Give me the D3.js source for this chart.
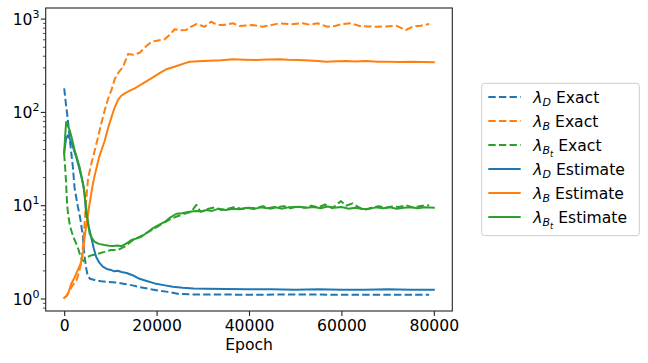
<!DOCTYPE html>
<html>
<head>
<meta charset="utf-8">
<script src="https://cdn.jsdelivr.net/npm/d3@7"></script>
<style>
  body { margin: 0; background: #fff; }
  svg { display: block; font-family: "DejaVu Sans", sans-serif; }
</style>
</head>
<body>
<svg id="chart" width="648" height="363"></svg>
<script>
// values: [epoch, value]
const lambdaDExact = [[0,181],[400,120],[800,83],[1380,43],[1880,26],[2250,15.5],[2960,9.8],[3500,7.2],[4040,4.7],[4400,2.85],[4800,2.1],[5120,1.75],[5600,1.65],[6570,1.6],[8000,1.55],[9440,1.52],[11600,1.5],[13100,1.45],[14800,1.4],[16400,1.34],[18500,1.28],[20500,1.23],[22100,1.2],[25000,1.13],[28000,1.12],[32000,1.12],[40000,1.11],[50000,1.12],[60000,1.11],[70000,1.11],[79000,1.11]];
const lambdaBExact = [[0,1.03],[700,1.1],[1600,1.35],[2680,1.6],[3300,2.0],[3760,2.6],[4100,3.8],[4470,7.0],[4800,12],[5180,20],[5920,28.7],[6630,39.5],[7340,54.5],[8000,75],[8790,106],[9500,140],[10240,174],[10950,228],[11800,270],[12740,307],[13820,423],[15000,415],[16350,436],[17500,500],[18900,572],[20300,590],[21750,607],[23000,690],[23900,778],[25200,760],[26400,764],[27500,830],[28600,885],[29500,860],[30400,829],[31800,938],[32800,880],[33600,864],[35000,870],[36500,902],[37950,844],[39300,855],[40800,864],[42900,829],[44700,860],[46600,902],[49000,880],[51600,902],[53200,870],[54800,902],[57000,829],[58600,845],[60200,885],[62100,902],[63900,844],[65700,835],[67500,829],[69600,835],[71800,850],[73950,764],[75400,829],[77200,850],[79000,885]];
const lambdaBtExact = [[0,36],[250,24],[430,17],[650,10],[900,7.8],[1230,6.2],[1510,5.5],[2000,4.6],[2590,3.95],[3000,3.5],[3330,3.1],[3820,2.65],[4200,2.55],[4600,2.7],[5120,2.84],[6000,2.95],[7280,3.05],[8700,3.2],[10150,3.35],[11600,3.35],[13100,3.64],[14900,4.29],[17060,4.85],[19000,5.5],[21000,6.3],[23000,7.2],[24500,7.7],[26000,8.2],[27500,8.6],[28600,10.2],[29500,8.6],[31000,9.2],[32500,9.6],[34000,9.0],[35500,9.3],[37000,9.7],[38500,9.2],[40000,9.5],[41500,9.4],[43000,9.9],[44500,9.3],[46000,9.6],[47500,9.9],[49000,9.4],[50500,9.8],[52000,9.5],[53500,10.0],[55000,9.6],[56500,10.3],[58000,9.4],[59900,11.2],[61000,10.0],[62400,10.6],[63500,9.8],[65000,9.0],[66500,9.5],[68000,9.9],[69500,9.5],[71000,9.8],[72500,9.7],[74000,10.1],[75500,9.6],[77000,9.9],[79000,10.1]];
const lambdaDEst = [[0,37],[400,52],[800,57],[1200,52],[1510,48.5],[2000,41],[2590,33.5],[3100,27],[3670,21],[4100,17],[4400,13.5],[4750,8.3],[5300,6],[5830,4.65],[6400,3.5],[6910,2.84],[7600,2.45],[8360,2.22],[9200,2.1],[10150,2.05],[10800,1.98],[11600,2.01],[12400,1.95],[13500,1.9],[14800,1.8],[16000,1.67],[17500,1.58],[19600,1.47],[21800,1.4],[23500,1.35],[25700,1.32],[28000,1.3],[30800,1.29],[35000,1.28],[40000,1.27],[45000,1.27],[50000,1.26],[55000,1.27],[60000,1.26],[65000,1.26],[70000,1.27],[75000,1.26],[80000,1.26]];
const lambdaBEst = [[0,1.03],[500,1.08],[1000,1.2],[1510,1.45],[2250,1.7],[2960,2.05],[3500,2.35],[3760,2.6],[4100,3.3],[4470,4.8],[4800,6.2],[5180,8.3],[5500,10.5],[5900,14],[6260,17.5],[6600,21],[7340,30],[7710,35],[8200,41],[8790,50],[9500,68],[10240,89],[10900,112],[11660,136],[12300,150],[13100,160],[14200,171],[15270,181],[16200,193],[17060,205],[18500,226],[19960,251],[21000,270],[22100,290],[23500,305],[25000,322],[26000,335],[27200,349],[29000,353],[31500,358],[34000,362],[36500,371],[39000,367],[41500,365],[44000,370],[46600,371],[48500,366],[50900,365],[53000,360],[55000,355],[56700,349],[59000,353],[61000,356],[63000,352],[65300,355],[68000,350],[70000,348],[72500,347],[75000,350],[77500,346],[80000,344]];
const lambdaBtEst = [[0,36.5],[200,55],[430,79],[700,74],[1170,65],[1700,52],[2250,39.5],[2800,32],[3330,26],[3800,20],[4250,15.5],[4600,11],[4900,8.3],[5200,6.4],[5490,5.06],[6000,4.5],[6570,4.11],[7500,3.9],[8730,3.79],[9700,3.72],[10580,3.7],[11600,3.75],[12400,3.68],[13500,3.95],[14560,4.29],[15600,4.45],[16700,4.65],[17800,5.1],[18700,5.5],[19600,5.9],[20700,6.3],[21750,6.7],[23000,7.5],[24300,8.2],[25500,8.3],[27150,8.6],[28500,8.8],[30000,8.7],[30750,9.0],[32000,8.8],[33500,9.3],[35000,9.0],[36500,9.3],[37950,9.15],[39500,9.5],[41000,9.2],[42500,9.6],[44000,9.4],[45500,9.7],[47000,9.3],[48500,9.6],[50900,9.75],[52500,9.5],[54000,9.7],[55500,9.4],[57000,9.8],[58500,9.5],[60000,9.7],[61500,9.3],[63000,9.5],[64500,9.2],[66000,9.3],[67500,9.6],[69000,9.4],[70500,9.6],[72000,9.3],[73500,9.5],[75000,9.6],[76500,9.4],[78000,9.6],[80000,9.5]];

const xTicks = [0, 20000, 40000, 60000, 80000];
const yTickExps = [0, 1, 2, 3];

// legend entries: subscript, sub-subscript, suffix
const series = [
  { data: lambdaDExact,  sub: "D", subsub: null, label: " Exact",    color: "#1f77b4", dash: true },
  { data: lambdaBExact,  sub: "B", subsub: null, label: " Exact",    color: "#ff7f0e", dash: true },
  { data: lambdaBtExact, sub: "B", subsub: "t",  label: " Exact",    color: "#2ca02c", dash: true },
  { data: lambdaDEst,    sub: "D", subsub: null, label: " Estimate", color: "#1f77b4", dash: false },
  { data: lambdaBEst,    sub: "B", subsub: null, label: " Estimate", color: "#ff7f0e", dash: false },
  { data: lambdaBtEst,   sub: "B", subsub: "t",  label: " Estimate", color: "#2ca02c", dash: false },
];

const pLeft = 45.7, pRight = 452.3, pTop = 8, pBottom = 311;
const fs = 15.6;

const svg = d3.select("#chart");

const x = d3.scaleLinear().domain([-4000, 84000]).range([pLeft, pRight]);
const y = d3.scaleLog().domain([0.744, 1315]).range([pBottom, pTop]);

svg.append("defs").append("clipPath").attr("id", "clip")
  .append("rect").attr("x", pLeft).attr("y", pTop).attr("width", pRight - pLeft).attr("height", pBottom - pTop);

const line = d3.line().x(d => x(d[0])).y(d => y(d[1]));

svg.append("g").attr("clip-path", "url(#clip)")
  .selectAll("path")
  .data(series)
  .join("path")
    .attr("d", d => line(d.data))
    .attr("fill", "none")
    .attr("stroke", d => d.color)
    .attr("stroke-width", 2)
    .attr("stroke-linejoin", "round")
    .attr("stroke-linecap", d => d.dash ? "butt" : "square")
    .attr("stroke-dasharray", d => d.dash ? "7.4,3.2" : null);

// x axis
const xAxis = svg.append("g").attr("transform", `translate(0,${pBottom})`)
  .call(d3.axisBottom(x).tickValues(xTicks).tickFormat(d3.format("d")).tickSizeOuter(0).tickSize(4.9).tickPadding(4));
xAxis.select(".domain").remove();
xAxis.selectAll(".tick line").attr("stroke", "#222").attr("stroke-width", 1.1);
xAxis.selectAll(".tick text").attr("font-size", fs).attr("fill", "#000").attr("font-family", "DejaVu Sans");

// y axis: major + minor ticks
const minors = [];
for (let e = -1; e <= 3; e++) for (let m = 2; m <= 9; m++) {
  const v = m * Math.pow(10, e);
  if (v > 0.744 && v < 1315) minors.push(v);
}
const yAxis = svg.append("g");
yAxis.selectAll("line.major").data(yTickExps).join("line").attr("class", "major")
  .attr("x1", pLeft - 4.9).attr("x2", pLeft)
  .attr("y1", d => y(Math.pow(10, d))).attr("y2", d => y(Math.pow(10, d)))
  .attr("stroke", "#222").attr("stroke-width", 1.1);
yAxis.selectAll("line.minor").data(minors).join("line").attr("class", "minor")
  .attr("x1", pLeft - 2.8).attr("x2", pLeft)
  .attr("y1", d => y(d)).attr("y2", d => y(d))
  .attr("stroke", "#222").attr("stroke-width", 0.8);
const yLab = yAxis.selectAll("text").data(yTickExps).join("text")
  .attr("x", 39.5).attr("y", d => y(Math.pow(10, d)) + 5.5)
  .attr("text-anchor", "end").attr("font-size", fs);
yLab.append("tspan").text("10");
yLab.append("tspan").attr("dy", -7).attr("font-size", 11).text(d => d);

// frame
svg.append("rect").attr("x", pLeft).attr("y", pTop).attr("width", pRight - pLeft).attr("height", pBottom - pTop)
  .attr("fill", "none").attr("stroke", "#222").attr("stroke-width", 1.1);

svg.append("text").attr("x", (pLeft + pRight) / 2).attr("y", 349.5)
  .attr("text-anchor", "middle").attr("font-size", fs).text("Epoch");

// legend
const lg = svg.append("g");
lg.append("rect").attr("x", 481.7).attr("y", 83.3).attr("width", 157.6).attr("height", 152.4)
  .attr("rx", 3).attr("fill", "#fff").attr("stroke", "#ccc").attr("stroke-width", 1);
const rowY = i => 97 + i * 24;
const items = lg.selectAll("g.item").data(series).join("g").attr("class", "item");
items.append("line")
  .attr("x1", 488.3).attr("x2", 520.7)
  .attr("y1", (d, i) => rowY(i)).attr("y2", (d, i) => rowY(i))
  .attr("stroke", d => d.color).attr("stroke-width", 2)
  .attr("stroke-dasharray", d => d.dash ? "7.4,3.2" : null);
const lt = items.append("text").attr("x", 533.3).attr("y", (d, i) => rowY(i) + 5.5).attr("font-size", fs);
lt.append("tspan").attr("font-style", "italic").text("λ");
lt.append("tspan").attr("font-style", "italic").attr("font-size", 11).attr("dy", 3.5).text(d => d.sub);
lt.filter(d => d.subsub).append("tspan").attr("font-style", "italic").attr("font-size", 8).attr("dy", 2.5).text(d => d.subsub);
lt.append("tspan").attr("dy", d => d.subsub ? -6 : -3.5).text(d => d.label);
</script>
</body>
</html>
